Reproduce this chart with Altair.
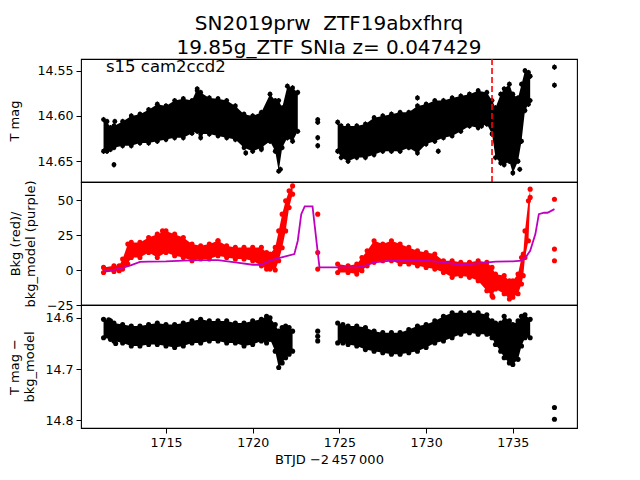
import altair as alt
import pandas as pd

FONT = "DejaVu Sans"

# ---------------- data ----------------
# Panel 1: T mag, envelope of the dense light curve (bright edge / faint edge)
p1_t_a = [1711.4, 1711.6, 1711.8, 1712.0, 1712.5, 1713.0, 1713.5, 1714.0, 1714.5, 1715.0,
          1715.5, 1716.0, 1716.5, 1716.8, 1717.0, 1717.5, 1718.0, 1718.5, 1719.0, 1719.5,
          1720.0, 1720.5, 1721.0, 1721.3, 1721.5, 1721.7, 1722.0, 1722.3, 1722.6]
p1_hi_a = [14.604, 14.606, 14.613, 14.611, 14.606, 14.600, 14.598, 14.593, 14.587, 14.589,
           14.583, 14.581, 14.583, 14.570, 14.574, 14.580, 14.581, 14.583, 14.589, 14.598,
           14.600, 14.596, 14.576, 14.583, 14.583, 14.591, 14.567, 14.569, 14.574]
p1_lo_a = [14.639, 14.639, 14.637, 14.635, 14.633, 14.633, 14.630, 14.630, 14.628, 14.626,
           14.624, 14.624, 14.619, 14.617, 14.620, 14.620, 14.622, 14.624, 14.626, 14.635,
           14.639, 14.635, 14.628, 14.639, 14.661, 14.635, 14.624, 14.628, 14.617]
p1_t_b = [1724.9, 1725.1, 1725.5, 1726.0, 1726.5, 1727.0, 1727.5, 1728.0, 1728.5, 1729.0,
          1729.5, 1730.0, 1730.5, 1731.0, 1731.5, 1732.0, 1732.5, 1733.0, 1733.5, 1733.8,
          1734.0, 1734.3, 1734.5, 1734.8, 1735.0, 1735.3, 1735.5, 1735.7, 1735.9, 1736.0]
p1_hi_b = [14.607, 14.611, 14.611, 14.611, 14.609, 14.602, 14.600, 14.598, 14.596, 14.596,
           14.589, 14.587, 14.583, 14.583, 14.580, 14.578, 14.576, 14.572, 14.574, 14.583,
           14.591, 14.576, 14.570, 14.565, 14.576, 14.580, 14.565, 14.550, 14.552, 14.556]
p1_lo_b = [14.639, 14.646, 14.650, 14.646, 14.646, 14.643, 14.639, 14.639, 14.639, 14.635,
           14.641, 14.631, 14.628, 14.624, 14.622, 14.617, 14.611, 14.613, 14.609, 14.620,
           14.646, 14.652, 14.654, 14.650, 14.663, 14.650, 14.628, 14.594, 14.587, 14.583]
p1_pt_t = [1723.75, 1723.75, 1723.75, 1723.75, 1737.4, 1737.4,
           1712.0, 1712.05, 1716.8, 1717.0, 1719.6, 1720.5, 1721.6, 1729.5, 1730.7, 1733.2, 1734.7, 1735.4]
p1_pt_m = [14.604, 14.607, 14.624, 14.633, 14.546, 14.566,
           14.654, 14.606, 14.572, 14.624, 14.641, 14.637, 14.659, 14.580, 14.639, 14.611, 14.648, 14.659]
p1_err = 0.003
vline_t = 1733.8
label_txt = "s15 cam2ccd2"

# Panel 2: background (red) envelope and background model (purple)
p2_t_a = [1711.4, 1712.0, 1712.3, 1712.5, 1712.8, 1713.0, 1713.5, 1714.0, 1714.5, 1715.0,
          1715.5, 1716.0, 1716.5, 1717.0, 1717.5, 1718.0, 1718.5, 1719.0, 1719.5, 1720.0,
          1720.5, 1720.8, 1721.0, 1721.3, 1721.5, 1721.7, 1721.9, 1722.1, 1722.3]
p2_hi_a = [1.9, 3.0, 3.0, 7.9, 18.6, 19.8, 19.8, 23.3, 25.7, 28.0,
           25.7, 23.3, 18.6, 17.4, 18.6, 21.0, 17.4, 16.2, 16.2, 16.2,
           16.2, 12.6, 11.4, 16.2, 28.0, 40.0, 49.5, 56.7, 60.2]
p2_lo_a = [-1.7, -1.0, -0.5, 0.7, 4.3, 9.0, 9.0, 12.6, 9.0, 12.6,
           10.2, 9.0, 6.7, 7.9, 7.9, 10.2, 9.0, 7.9, 7.9, 6.7,
           3.0, 0.7, 0.7, 0.0, 6.7, 16.0, 28.0, 44.7, 54.3]
p2_t_b = [1724.9, 1725.5, 1726.0, 1726.3, 1726.6, 1727.0, 1727.5, 1728.0, 1728.5, 1729.0,
          1729.5, 1730.0, 1730.5, 1731.0, 1731.5, 1732.0, 1732.5, 1733.0, 1733.5, 1733.8,
          1734.0, 1734.5, 1734.8, 1735.0, 1735.3, 1735.5, 1735.6, 1735.7, 1735.9, 1736.0]
p2_hi_b = [4.3, 3.1, 4.3, 9.0, 13.8, 21.0, 18.6, 21.0, 18.6, 16.2,
           13.8, 12.6, 11.4, 6.7, 6.7, 5.5, 5.5, 6.7, 5.5, 1.9,
           -2.9, -4.0, -7.6, -7.6, -2.9, 9.0, 11.4, 28.0, 49.5, 57.9]
p2_lo_b = [-1.7, -1.7, -2.9, -0.5, 3.0, 5.5, 6.7, 6.7, 4.3, 4.3,
           3.0, 1.9, 0.7, -1.7, -5.2, -4.0, -5.2, -7.6, -14.8, -18.3,
           -13.6, -17.0, -20.7, -19.5, -17.0, -10.0, -4.0, 9.0, 21.0, 52.0]
p2_pt_t = [1723.75, 1723.75, 1723.75, 1737.4, 1737.4, 1737.4, 1733.85, 1714.8, 1718.0]
p2_pt_v = [40.0, 12.6, 0.7, 50.7, 15.0, 6.7, -19.5, 28.0, 21.0]
model_t = [1711.4, 1712.0, 1712.5, 1713.0, 1713.5, 1714.0, 1715.0, 1716.0, 1717.0, 1718.0,
           1719.0, 1720.0, 1720.5, 1721.0, 1721.5, 1722.0, 1722.4, 1722.6, 1722.8, 1723.0,
           1723.45, 1723.85, 1724.5, 1725.0, 1726.0, 1726.5, 1727.0, 1728.0, 1729.0, 1730.0,
           1731.0, 1732.0, 1733.0, 1734.0, 1735.0, 1735.5, 1735.8, 1736.0, 1736.3, 1736.5,
           1736.8, 1737.0, 1737.4]
model_v = [0.2, 0.2, 1.5, 3.5, 5.8, 6.0, 6.2, 6.7, 7.1, 7.1,
           5.5, 3.8, 3.8, 6.7, 8.6, 10.2, 11.4, 21.0, 40.0, 45.5,
           45.5, 1.9, 1.9, 1.9, 1.9, 3.1, 5.5, 6.7, 7.1, 6.7,
           5.5, 3.8, 4.8, 6.0, 6.2, 6.7, 10.2, 13.8, 25.7, 40.0,
           41.0, 41.0, 43.6]

# Panel 3: T mag - bkg_model envelope
p3_t_a = [1711.4, 1711.8, 1712.0, 1712.5, 1713.0, 1713.5, 1714.0, 1714.5, 1715.0, 1715.5,
          1716.0, 1716.5, 1717.0, 1717.5, 1718.0, 1718.5, 1719.0, 1719.5, 1720.0, 1720.5,
          1720.8, 1721.0, 1721.3, 1721.5, 1721.7, 1721.9, 1722.1, 1722.3]
p3_hi_a = [14.603, 14.606, 14.610, 14.613, 14.616, 14.616, 14.613, 14.610, 14.613, 14.613,
           14.610, 14.606, 14.603, 14.606, 14.606, 14.606, 14.610, 14.610, 14.606, 14.603,
           14.597, 14.600, 14.613, 14.626, 14.619, 14.616, 14.619, 14.626]
p3_lo_a = [14.639, 14.642, 14.645, 14.649, 14.655, 14.655, 14.652, 14.652, 14.655, 14.658,
           14.655, 14.649, 14.649, 14.645, 14.645, 14.649, 14.649, 14.655, 14.652, 14.645,
           14.649, 14.642, 14.665, 14.697, 14.688, 14.678, 14.671, 14.665]
p3_t_b = [1724.9, 1725.2, 1725.5, 1726.0, 1726.5, 1727.0, 1727.5, 1728.0, 1728.5, 1729.0,
          1729.5, 1730.0, 1730.5, 1731.0, 1731.5, 1732.0, 1732.5, 1733.0, 1733.5, 1733.8,
          1734.0, 1734.3, 1734.5, 1734.8, 1735.0, 1735.3, 1735.5, 1735.7, 1736.0]
p3_hi_b = [14.610, 14.613, 14.616, 14.616, 14.619, 14.626, 14.629, 14.629, 14.629, 14.623,
           14.616, 14.613, 14.606, 14.597, 14.590, 14.590, 14.590, 14.590, 14.594, 14.606,
           14.610, 14.610, 14.597, 14.606, 14.613, 14.606, 14.597, 14.594, 14.603]
p3_lo_b = [14.649, 14.649, 14.652, 14.655, 14.662, 14.665, 14.668, 14.671, 14.671, 14.668,
           14.665, 14.658, 14.649, 14.645, 14.639, 14.632, 14.629, 14.632, 14.632, 14.639,
           14.652, 14.665, 14.678, 14.688, 14.691, 14.681, 14.655, 14.639, 14.639]
p3_pt_t = [1723.75, 1723.75, 1723.75, 1737.4, 1737.4, 1711.7, 1712.1]
p3_pt_m = [14.626, 14.636, 14.645, 14.775, 14.798, 14.604, 14.650]

# ticks
x_ticks = [1715, 1720, 1725, 1730, 1735]
y1_ticks = [14.55, 14.60, 14.65]
y2_ticks = [-25, 0, 25, 50]
y3_ticks = [14.6, 14.7, 14.8]

title_lines = ["SN2019prw \u00a0ZTF19abxfhrq", "19.85g_ZTF SNIa z= 0.047429"]

# ---------------- frames ----------------
def band(segs):
    rows = []
    for k, (t, hi, lo) in enumerate(segs):
        for a, b, c in zip(t, hi, lo):
            rows.append({"t": a, "hi": b, "lo": c, "seg": k})
    return pd.DataFrame(rows)

def points(segs, extra_t, extra_y):
    rows = []
    for t, hi, lo in segs:
        for a, b, c in zip(t, hi, lo):
            rows.append({"t": a, "y": b})
            rows.append({"t": a, "y": c})
    for a, b in zip(extra_t, extra_y):
        rows.append({"t": a, "y": b})
    return pd.DataFrame(rows)

segs1 = [(p1_t_a, p1_hi_a, p1_lo_a), (p1_t_b, p1_hi_b, p1_lo_b)]
segs2 = [(p2_t_a, p2_hi_a, p2_lo_a), (p2_t_b, p2_hi_b, p2_lo_b)]
segs3 = [(p3_t_a, p3_hi_a, p3_lo_a), (p3_t_b, p3_hi_b, p3_lo_b)]

b1 = band(segs1)
pt1 = points(segs1, p1_pt_t, p1_pt_m)
pt1["ylo"] = pt1["y"] - p1_err
pt1["yhi"] = pt1["y"] + p1_err
b2 = band(segs2)
pt2 = points(segs2, p2_pt_t, p2_pt_v)
mdl = pd.DataFrame({"t": model_t, "v": model_v})
b3 = band(segs3)
pt3 = points(segs3, p3_pt_t, p3_pt_m)

W, H = 496, 123
xscale = alt.Scale(domain=[1710.1, 1738.7], nice=False, zero=False)
xnone = alt.X("t:Q", scale=xscale, axis=None)

# ---------------- panel 1 ----------------
y1s = alt.Scale(domain=[14.537, 14.673], reverse=True, nice=False, zero=False)
y1ax = alt.Axis(values=y1_ticks, format=".2f", title="T mag", titlePadding=15)
a1 = alt.Chart(b1).mark_area(color="black", opacity=1).encode(
    x=xnone, y=alt.Y("hi:Q", scale=y1s, axis=y1ax), y2="lo:Q", detail="seg:N")
e1 = alt.Chart(pt1).mark_rule(color="black", strokeWidth=1.2).encode(
    x=xnone, y=alt.Y("ylo:Q", scale=y1s, axis=y1ax), y2="yhi:Q")
c1 = alt.Chart(pt1).mark_circle(color="black", size=24, opacity=1).encode(
    x=xnone, y=alt.Y("y:Q", scale=y1s, axis=y1ax))
v1 = alt.Chart(pd.DataFrame({"t": [vline_t]})).mark_rule(
    color="#ff0000", strokeDash=[6, 3], strokeWidth=1.6).encode(x=xnone)
txt = alt.Chart(pd.DataFrame({"s": [label_txt]})).mark_text(
    align="left", baseline="alphabetic", font=FONT, fontSize=16.5, color="black").encode(
    text="s:N", x=alt.value(25), y=alt.value(12.5))
p1 = alt.layer(a1, e1, c1, v1, txt).properties(
    width=W, height=H,
    title=alt.Title(title_lines,
                    frame="group", anchor="middle", fontSize=20, lineHeight=24,
                    font=FONT, fontWeight="normal", color="black", offset=0))

# ---------------- panel 2 ----------------
y2s = alt.Scale(domain=[-25, 63], nice=False, zero=False)
y2ax = alt.Axis(values=y2_ticks, format="d", title=["Bkg (red)/", "bkg_model (purple)"],
                titlePadding=9)
a2 = alt.Chart(b2).mark_area(color="#ff0000", opacity=1).encode(
    x=xnone, y=alt.Y("hi:Q", scale=y2s, axis=y2ax), y2="lo:Q", detail="seg:N")
c2 = alt.Chart(pt2).mark_circle(color="#ff0000", size=26, opacity=1).encode(
    x=xnone, y=alt.Y("y:Q", scale=y2s, axis=y2ax))
l2 = alt.Chart(mdl).mark_line(color="#bf00bf", strokeWidth=1.8).encode(
    x=xnone, y=alt.Y("v:Q", scale=y2s, axis=y2ax))
p2 = alt.layer(a2, c2, l2).properties(width=W, height=H)

# ---------------- panel 3 ----------------
y3s = alt.Scale(domain=[14.575, 14.815], reverse=True, nice=False, zero=False)
y3ax = alt.Axis(values=y3_ticks, format=".1f", title=["T mag \u2212", "bkg_model"],
                titlePadding=8)
x3 = alt.X("t:Q", scale=xscale,
           axis=alt.Axis(values=x_ticks, format="d", title="BTJD \u22122\u2009457\u2009000",
                         titlePadding=5))
a3 = alt.Chart(b3).mark_area(color="black", opacity=1).encode(
    x=x3, y=alt.Y("hi:Q", scale=y3s, axis=y3ax), y2="lo:Q", detail="seg:N")
c3 = alt.Chart(pt3).mark_circle(color="black", size=26, opacity=1).encode(
    x=x3, y=alt.Y("y:Q", scale=y3s, axis=y3ax))
p3 = alt.layer(a3, c3).properties(width=W, height=H)

chart = alt.vconcat(p1, p2, p3, spacing=0, bounds="flush").properties(
    padding={"left": 0, "top": 5, "right": 5, "bottom": 0}
).configure_view(stroke="black", strokeWidth=1.1).configure_axis(
    labelFont=FONT, titleFont=FONT, labelFontSize=12.6, titleFontSize=13,
    labelColor="black", titleColor="black", tickColor="black", tickSize=5,
    labelPadding=3, domain=False, grid=False, titleFontWeight="normal",
    titleLineHeight=15)

chart.save("out.html", embed_options={"renderer": "svg", "actions": False})
